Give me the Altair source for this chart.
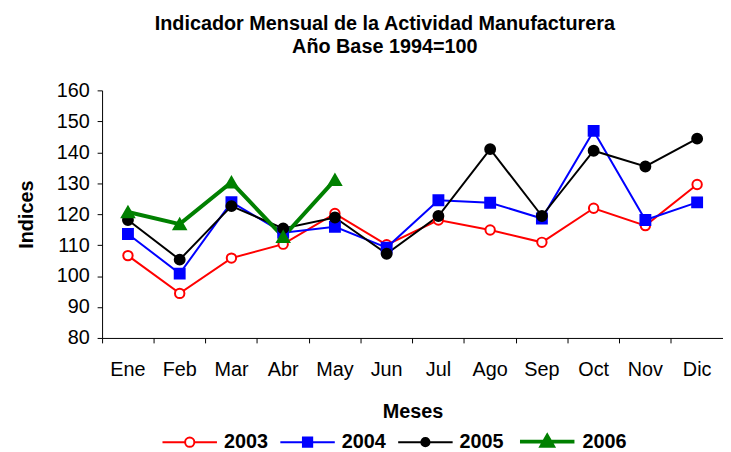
import altair as alt
import pandas as pd

meses = ["Ene", "Feb", "Mar", "Abr", "May", "Jun", "Jul", "Ago", "Sep", "Oct", "Nov", "Dic"]
anios = ["2003", "2004", "2005", "2006"]
v2003 = [106.6, 94.4, 105.8, 110.3, 120.2, 110.1, 118.1, 114.9, 110.9, 121.9, 116.3, 129.6]
v2004 = [113.6, 100.8, 123.9, 114.0, 115.9, 109.2, 124.5, 123.7, 118.6, 146.9, 118.1, 123.8]
v2005 = [118.1, 105.3, 122.6, 115.4, 118.9, 107.2, 119.4, 141.0, 119.4, 140.5, 135.4, 144.4]
v2006 = [120.7, 116.8, 130.3, 112.7, 131.1]
y_ticks = [80, 90, 100, 110, 120, 130, 140, 150, 160]

series = {"2003": v2003, "2004": v2004, "2005": v2005, "2006": v2006}
rows = []
for a in anios:
    for m, v in zip(meses, series[a]):
        rows.append({"Mes": m, "Valor": v, "Anio": a})
df = pd.DataFrame(rows)

FONT = "Liberation Sans"
line_colors = ["#FF0000", "#0000FF", "#000000", "#008000"]
fill_colors = ["#FFFFFF", "#0000FF", "#000000", "#008000"]
line_widths = [2, 2, 2, 4]
shapes = ["circle", "square", "circle", "triangle-up"]
sizes = [90, 100, 100, 150]
legend_paths = [
    "M-1,0H-0.18M0.18,0H1M-0.17,0A0.17,0.17 0 1,0 0.17,0A0.17,0.17 0 1,0 -0.17,0Z",
    "M-1,0H1M-0.17,-0.17H0.17V0.17H-0.17Z",
    "M-1,0H1M-0.15,0A0.15,0.15 0 1,0 0.15,0A0.15,0.15 0 1,0 -0.15,0Z",
    "M-1,0H1M0,-0.2L0.2,0.15H-0.2Z",
]

x_enc = alt.X(
    "Mes:N",
    sort=meses,
    scale=alt.Scale(type="band", domain=meses, paddingInner=0, paddingOuter=0),
    axis=alt.Axis(
        title="Meses", labelAngle=0, bandPosition=0,
        tickSize=5, labelPadding=17, labelFontSize=20, labelFont=FONT,
        titleFont=FONT, titleFontSize=20, titleFontWeight="bold",
        titleY=64, titleBaseline="top",
    ),
)
y_enc = alt.Y(
    "Valor:Q",
    scale=alt.Scale(domain=[80, 160], nice=False, zero=False),
    axis=alt.Axis(
        title="Indices", values=y_ticks, tickSize=5, labelPadding=8,
        labelFontSize=20, labelFont=FONT, titleFont=FONT, titleFontSize=20,
        titleFontWeight="bold", titleX=-66, titleY=125, titleAlign="center",
        titleBaseline="bottom", titleAngle=270,
    ),
)

layers = []
for i, a in enumerate(anios):
    d = df[df["Anio"] == a]
    layers.append(
        alt.Chart(d).mark_line(color=line_colors[i], strokeWidth=line_widths[i]).encode(x=x_enc, y=y_enc)
    )
for i, a in enumerate(anios):
    d = df[df["Anio"] == a]
    layers.append(
        alt.Chart(d).mark_point(
            shape=shapes[i], size=sizes[i], filled=False, opacity=1,
            stroke=line_colors[i], fill=fill_colors[i], strokeWidth=2,
        ).encode(x=x_enc, y=y_enc)
    )

leg = alt.Legend(
    title=None, orient="none", legendX=60, legendY=325, direction="horizontal",
    symbolSize=3025, symbolOpacity=1, labelFont=FONT, labelFontSize=20,
    labelFontWeight="bold", labelColor="black", labelOffset=6, columnPadding=8,
)
legend_layer = alt.Chart(df).mark_point(opacity=0, filled=False).encode(
    x=x_enc, y=y_enc,
    stroke=alt.Stroke("Anio:N", scale=alt.Scale(domain=anios, range=line_colors), legend=leg),
    fill=alt.Fill("Anio:N", scale=alt.Scale(domain=anios, range=fill_colors), legend=leg),
    shape=alt.Shape("Anio:N", scale=alt.Scale(domain=anios, range=legend_paths), legend=leg),
    strokeWidth=alt.StrokeWidth("Anio:N", scale=alt.Scale(type="ordinal", domain=anios, range=line_widths), legend=leg),
)

chart = alt.layer(legend_layer, *layers).properties(
    width=627, height=250,
    autosize=alt.AutoSizeParams(type="none"),
    padding={"left": 95, "top": 81, "right": 0, "bottom": 113},
    title=alt.TitleParams(
        text=["Indicador Mensual de la Actividad Manufacturera", "Año Base 1994=100"],
        font=FONT, fontSize=20, fontWeight="bold", anchor="middle", dx=-28,
        offset=24, lineHeight=23, color="black",
    ),
).configure_view(stroke=None).configure_axis(
    grid=False, domainColor="black", tickColor="black", labelColor="black", titleColor="black",
)

chart.save("out.html", embed_options={"renderer": "svg", "actions": False})
